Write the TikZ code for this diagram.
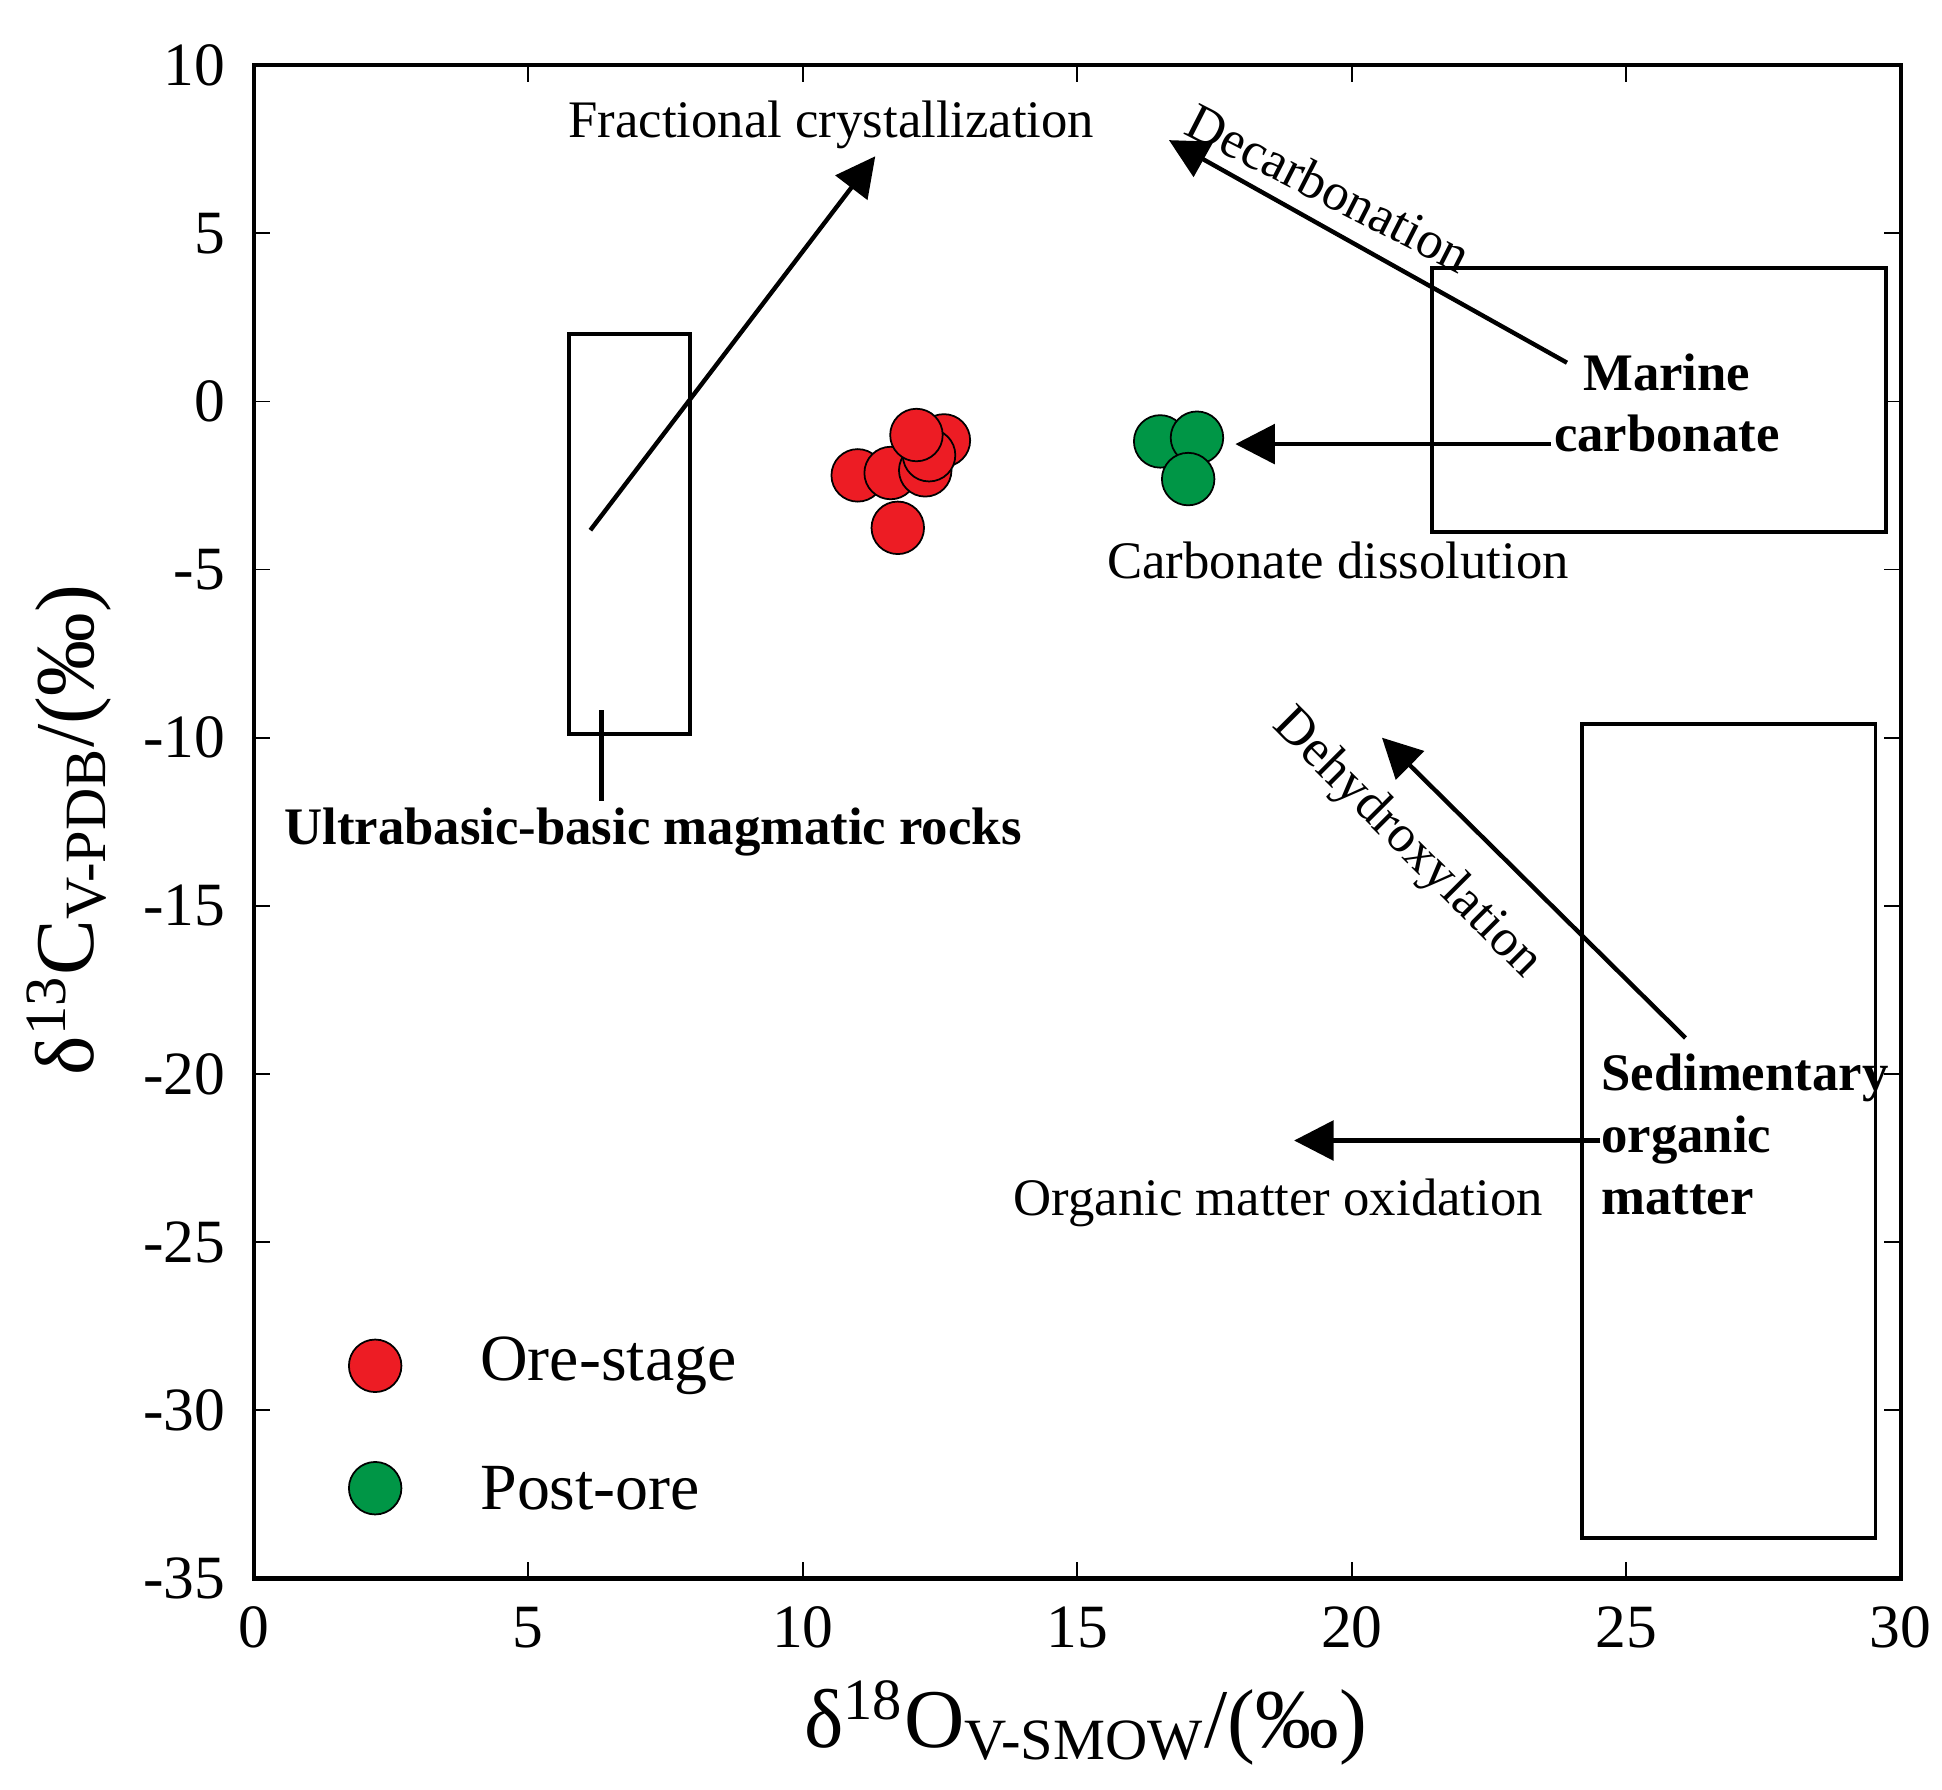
\documentclass[tikz,border=0pt]{standalone}
\usepackage{fontspec}
\setmainfont{Liberation Serif}
\usetikzlibrary{arrows.meta, positioning, calc}
\definecolor{orered}{RGB}{237,28,36}
\definecolor{postgreen}{RGB}{0,150,70}
\tikzset{
  field/.style={draw, line width=0.9pt},
  trend/.style={draw, line width=1pt, -{Triangle[length=9pt,width=9pt]}},
  note/.style={font=\fontsize{12}{14}\selectfont},
  src/.style={font=\fontsize{12}{14}\selectfont\bfseries, align=left},
  ore/.style={circle, draw, fill=orered, minimum size=0.42cm, inner sep=0pt},
  post/.style={circle, draw, fill=postgreen, minimum size=0.42cm, inner sep=0pt},
}
\begin{document}
\begin{tikzpicture}
\useasboundingbox (0,0) rectangle (15.53,14.31);
\begin{scope}[shift={(2.03,11.10)}, x=0.439cm, y=0.2689cm]
  % frame and ticks
  \draw[line width=1pt] (0,-35) rectangle (30,10);
  \foreach \x in {0,5,...,30} {
    \draw (\x,-35) -- ++(0,0.5) (\x,10) -- ++(0,-0.5);
    \node[font=\fontsize{14}{16}\selectfont, below=3pt] at (\x,-35) {\x};
  }
  \foreach \y in {-35,-30,...,10} {
    \draw (0,\y) -- ++(0.3,0) (30,\y) -- ++(-0.3,0);
    \node[font=\fontsize{14}{16}\selectfont, left=3pt] at (0,\y) {\y};
  }
  % axis titles
  \node[font=\fontsize{19}{22}\selectfont] (xlab) at (15.15,-39.3) {δ\textsuperscript{18}O\textsubscript{V-SMOW}/(‰)};
  \node[font=\fontsize{19}{22}\selectfont, rotate=90] (ylab) at (-3.37,-12.75) {δ\textsuperscript{13}C\textsubscript{V-PDB}/(‰)};

  % source fields
  \draw[field] (5.74,-9.9) rectangle (7.95,2.0);
  \draw[field] (21.46,-3.87) rectangle (29.73,3.98);
  \draw[field] (24.19,-33.8) rectangle (29.54,-9.6);

  % labels
  \node[src] (ultra) at (7.27,-12.8) {Ultrabasic-basic magmatic rocks};
  \node[src, align=center] (marine) at (25.74,-0.04) {Marine\\carbonate};
  \node[src, anchor=west, inner sep=0pt] (sedim) at (24.53,-21.8) {Sedimentary\\organic\\matter};
  \node[note] (fraclab) at (10.52,8.21) {Fractional crystallization};
  \node[note, rotate=-27] (decarb) at (19.59,6.36) {Decarbonation};
  \node[note] (disslab) at (19.75,-4.73) {Carbonate dissolution};
  \node[note, rotate=-45] (dehyd) at (21.0,-13.17) {Dehydroxylation};
  \node[note] (oxlab) at (18.66,-23.84) {Organic matter oxidation};

  % trends
  \coordinate (fracA) at (6.13,-3.83);
  \coordinate (fracB) at (11.32,7.29);
  \coordinate (decA) at (23.92,1.15);
  \coordinate (decB) at (16.67,7.77);
  \coordinate (dissA) at (23.62,-1.27);
  \coordinate (dissB) at (17.88,-1.27);
  \coordinate (dehA) at (26.08,-18.93);
  \coordinate (dehB) at (20.55,-10.0);
  \coordinate (oxA) at (24.53,-21.98);
  \coordinate (oxB) at (18.95,-21.98);
  \coordinate (ultA) at (6.33,-9.19);
  \coordinate (ultB) at (6.33,-11.87);
  \draw[trend] (fracA) -- (fracB);
  \draw[trend] (decA) -- (decB);
  \draw[trend] (dissA) -- (dissB);
  \draw[trend] (dehA) -- (dehB);
  \draw[trend] (oxA) -- (oxB);
  \draw[line width=1pt] (ultA) -- (ultB);

  % data
  \foreach \px/\py [count=\i] in {11.0/-2.2, 11.6/-2.13, 11.73/-3.76, 12.23/-2.05, 12.57/-1.16, 12.3/-1.6, 12.07/-1.0}
    \node[ore] (o\i) at (\px,\py) {};
  \foreach \px/\py [count=\i] in {16.51/-1.19, 17.18/-1.08, 17.02/-2.31}
    \node[post] (p\i) at (\px,\py) {};

  % legend
  \node[ore] (legore) at (2.21,-28.68) {};
  \node[note, font=\fontsize{15}{17}\selectfont, right=0.5cm of legore] {Ore-stage};
  \node[post] (legpost) at (2.21,-32.32) {};
  \node[note, font=\fontsize{15}{17}\selectfont, right=0.5cm of legpost] {Post-ore};
\end{scope}
\end{tikzpicture}
\end{document}
